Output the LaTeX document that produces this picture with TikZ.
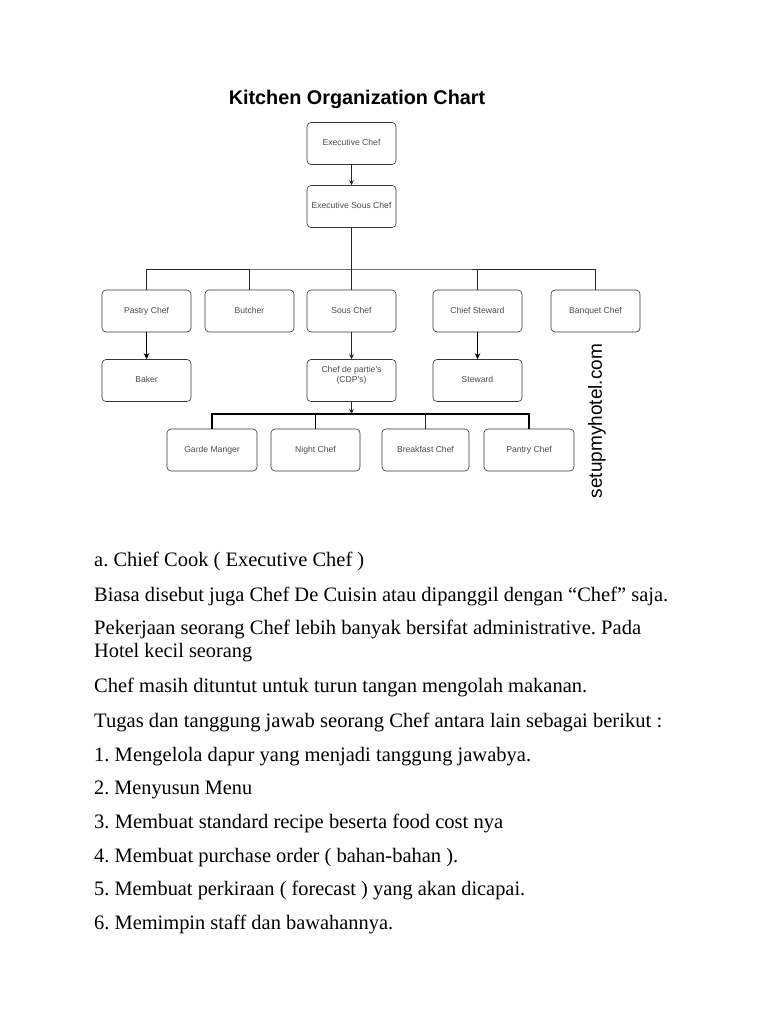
\documentclass[tikz,border=0pt]{standalone}
\usepackage{fontspec}
\usepackage{graphicx}
\setmainfont{Liberation Serif}
\newfontfamily\arialfont{Liberation Sans}
\usetikzlibrary{arrows.meta}
\newcommand{\fitline}[2]{\resizebox{#1pt}{\height}{#2}}
\begin{document}
\frenchspacing
\begin{tikzpicture}[x=1pt,y=-1pt,
  box/.style={draw=black!80, rounded corners=4pt, minimum width=89pt, minimum height=42pt,
    inner sep=1pt, font=\arialfont\fontsize{8.6}{10}\selectfont, text=black!70, align=center,
    line width=0.6pt, text height=6.3pt, text depth=1.8pt},
  conn/.style={draw=black!85, line width=0.6pt},
  thickconn/.style={draw=black, line width=1.1pt},
  arr/.style={conn, -{Stealth[length=5pt,width=4.5pt]}},
  thickarr/.style={thickconn, -{Stealth[length=6pt,width=5.5pt]}},
  body/.style={anchor=base west, inner sep=0pt, font=\fontsize{20.5}{24}\selectfont},
  title/.style={font=\arialfont\bfseries\fontsize{19.8}{22}\selectfont, inner sep=0pt},
  wmark/.style={font=\arialfont\fontsize{19}{22}\selectfont, inner sep=0pt, rotate=90}]
\useasboundingbox[fill=white] (0,0) rectangle (768,1024);

\node[title] (title) at (357,99) {Kitchen Organization Chart};

\node[box] (ec) at (351.5,143.5) {Executive Chef};
\node[box] (esc) at (351.5,206.5) {Executive Sous Chef};

\node[box] (pastry) at (146.5,311) {Pastry Chef};
\node[box] (butcher) at (249.5,311) {Butcher};
\node[box] (sous) at (351.5,311) {Sous Chef};
\node[box] (chiefst) at (477.5,311) {Chief Steward};
\node[box] (banquet) at (595.5,311) {Banquet Chef};

\node[box] (baker) at (146.5,380.5) {Baker};
\node[box] (cdp) at (351.5,380.5) {Chef de partie's\\(CDP's)};
\node[box] (steward) at (477.5,380.5) {Steward};

\node[box, minimum width=90pt] (garde) at (212,450) {Garde Manger};
\node[box] (night) at (315.5,450) {Night Chef};
\node[box, minimum width=87pt] (breakfast) at (425.5,450) {Breakfast Chef};
\node[box, minimum width=90pt] (pantry) at (529,450) {Pantry Chef};

\node[wmark] (wm) at (597,421) {setupmyhotel.com};

% connectors
\draw[arr] (ec) -- (esc);
\coordinate (bus1) at (351.5,269);
\draw[conn] (esc.south) -- (bus1);
\draw[conn] (pastry.north) |- (bus1) -| (banquet.north);
\draw[conn] (butcher.north) -- (butcher.north |- bus1);
\draw[conn] (sous.north) -- (bus1);
\draw[conn] (chiefst.north) -- (chiefst.north |- bus1);
\draw[thickarr] (pastry) -- (baker);
\draw[arr] (sous) -- (cdp);
\draw[thickarr] (chiefst) -- (steward);
\coordinate (bus2) at (351.5,414);
\draw[arr] (cdp.south) -- (bus2);
\draw[thickconn] (garde.north) |- (bus2) -| (pantry.north);
\draw[thickconn] (night.north) -- (night.north |- bus2);
\draw[conn] (breakfast.north) -- (breakfast.north |- bus2);

% body text
\node[body] (t1) at (94,566) {\fitline{270}{a. Chief Cook ( Executive Chef )}};
\node[body] (t2) at (94,601) {\fitline{574}{Biasa disebut juga Chef De Cuisin atau dipanggil dengan ``Chef'' saja.}};
\node[body] (t3) at (94,634) {\fitline{547}{Pekerjaan seorang Chef lebih banyak bersifat administrative. Pada}};
\node[body] (t4) at (94,657) {\fitline{158}{Hotel kecil seorang}};
\node[body] (t5) at (94,692) {\fitline{493}{Chef masih dituntut untuk turun tangan mengolah makanan.}};
\node[body] (t6) at (94,727) {\fitline{568}{Tugas dan tanggung jawab seorang Chef antara lain sebagai berikut :}};
\node[body] (t7) at (94,761) {\fitline{437}{1. Mengelola dapur yang menjadi tanggung jawabya.}};
\node[body] (t8) at (94,794) {\fitline{158}{2. Menyusun Menu}};
\node[body] (t9) at (94,828) {\fitline{409}{3. Membuat standard recipe beserta food cost nya}};
\node[body] (t10) at (94,862) {\fitline{364}{4. Membuat purchase order ( bahan-bahan ).}};
\node[body] (t11) at (94,895) {\fitline{431}{5. Membuat perkiraan ( forecast ) yang akan dicapai.}};
\node[body] (t12) at (94,929) {\fitline{299}{6. Memimpin staff dan bawahannya.}};
\end{tikzpicture}
\end{document}
